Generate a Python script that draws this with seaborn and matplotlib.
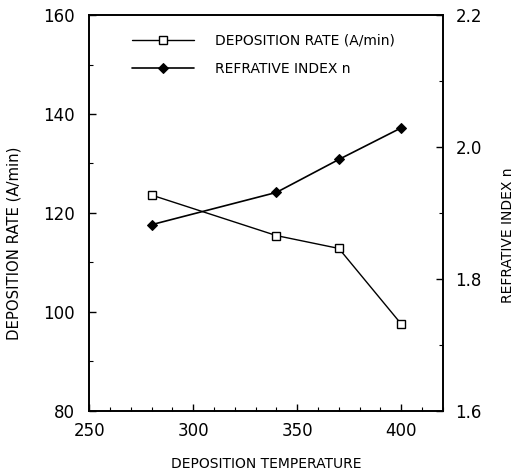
import matplotlib
matplotlib.use("Agg")
import matplotlib.pyplot as plt
import seaborn as sns
import pandas as pd
from matplotlib.ticker import MultipleLocator

temperature = [280, 340, 370, 400]
deposition_rate = [123.6, 115.4, 112.8, 97.5]
refractive_index = [1.882, 1.931, 1.981, 2.029]

sns.set_theme(style="ticks")
plt.rcParams['font.family'] = ['DejaVu Sans']
plt.rcParams['text.color'] = 'black'
plt.rcParams['axes.labelcolor'] = 'black'

df = pd.DataFrame({"T": temperature, "rate": deposition_rate, "n": refractive_index})

fig = plt.figure(figsize=(5.15, 4.73), dpi=100)
ax = fig.add_axes([0.173, 0.132, 0.687, 0.836])
ax2 = ax.twinx()

sns.lineplot(data=df, x="T", y="rate", ax=ax, color="black", lw=1.0,
             marker="s", markersize=6, markerfacecolor="white",
             markeredgecolor="black", markeredgewidth=1.0,
             label="DEPOSITION RATE (A/min)", legend=False)
sns.lineplot(data=df, x="T", y="n", ax=ax2, color="black", lw=1.2,
             marker="D", markersize=5, markerfacecolor="black",
             markeredgecolor="black",
             label="REFRATIVE INDEX n", legend=False)

ax.set_xlim(250, 420)
ax.set_ylim(80, 160)
ax2.set_ylim(1.6, 2.2)
ax.xaxis.set_major_locator(MultipleLocator(50))
ax.xaxis.set_minor_locator(MultipleLocator(10))
ax.yaxis.set_major_locator(MultipleLocator(20))
ax.yaxis.set_minor_locator(MultipleLocator(10))
ax2.set_yticks([1.6, 1.8, 2.0, 2.2])
ax2.set_yticklabels(["1.6", "1.8", "2.0", "2.2"])
ax2.yaxis.set_minor_locator(MultipleLocator(0.1))

for a in (ax, ax2):
    a.tick_params(which="both", direction="in", colors="black", labelsize=12)
    a.tick_params(which="major", length=5, width=1)
    a.tick_params(which="minor", length=3, width=0.8)
    for s in a.spines.values():
        s.set_color("black")
        s.set_linewidth(1.2)
ax.tick_params(axis="x", pad=8)
ax.tick_params(axis="y", pad=10)
ax2.tick_params(axis="y", pad=9)

ax.set_xlabel("DEPOSITION TEMPERATURE", fontsize=10, color="black")
ax.set_ylabel("DEPOSITION RATE (A/min)", fontsize=10.7, color="black")
ax2.set_ylabel("REFRATIVE INDEX n", fontsize=10, rotation=90, color="black")
ax.xaxis.set_label_coords(0.501, -0.118)
ax.yaxis.set_label_coords(-0.19, 0.424)
ax2.yaxis.set_label_coords(1.165, 0.444)

h1, l1 = ax.get_legend_handles_labels()
h2, l2 = ax2.get_legend_handles_labels()
leg = ax.legend(h1 + h2, l1 + l2, loc="upper left", bbox_to_anchor=(0.085, 0.985),
                frameon=False, fontsize=10, handlelength=4.5, handletextpad=1.5,
                labelspacing=1.05)
for t in leg.get_texts():
    t.set_color("black")

fig.savefig("out.png", dpi=100)
